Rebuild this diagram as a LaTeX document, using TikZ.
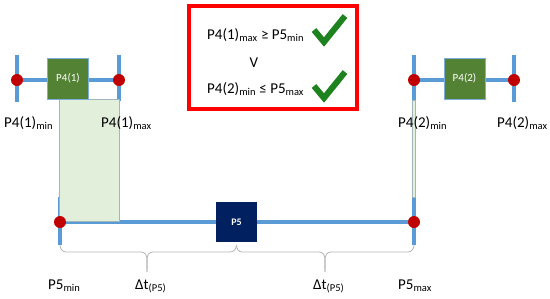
\documentclass[tikz,border=0pt]{standalone}
\usepackage{fontspec}
\setmainfont{Carlito}
\usetikzlibrary{positioning}
\definecolor{lblue}{RGB}{91,155,213}
\definecolor{dred}{RGB}{192,0,0}
\definecolor{gbx}{RGB}{84,130,53}
\definecolor{navy}{RGB}{0,32,96}
\definecolor{lgreen}{RGB}{226,239,218}
\definecolor{chk}{RGB}{30,130,30}
\definecolor{brc}{RGB}{180,180,180}
\pgfdeclarelayer{background}
\pgfsetlayers{background,main}
\begin{document}
\begin{tikzpicture}[x=1pt,y=-1pt,
  bl/.style={line width=4pt, draw=lblue},
  dot/.style={circle, fill=dred, inner sep=0pt, minimum size=12pt},
  gbox/.style={draw=lblue!80, line width=0.6pt, fill=gbx, text=white, minimum width=41pt, minimum height=41pt, inner sep=0pt, font=\fontsize{11}{13}\selectfont},
  nbox/.style={fill=navy, text=white, minimum width=41pt, minimum height=40pt, inner sep=0pt, font=\fontsize{10}{12}\selectfont\bfseries},
  lbl/.style={anchor=base west, inner sep=0pt, font=\fontsize{15}{17}\selectfont},
  shade/.style={fill=lgreen, draw=lblue!40!lgreen!70!gray, line width=0.4pt},
  chkm/.style={draw=chk, line width=6pt, line join=miter},
  brace/.style={draw=brc, line width=0.8pt}
]
\useasboundingbox (0,0) rectangle (550,298);
% shaded areas
\draw[shade] (59,99) rectangle (119,221);
\draw[shade] (412.5,100) rectangle (415.5,197);
% dots
\node[dot] (a1) at (17,80) {};
\node[dot] (a2) at (119,80) {};
\node[dot] (b1) at (414,80) {};
\node[dot] (b2) at (514,80) {};
\node[dot] (c1) at (60,222) {};
\node[dot] (c2) at (414,222) {};
% boxes
\node[gbox] (p41) at (68,78.5) {P4(1)};
\node[gbox] (p42) at (464.5,78.5) {P4(2)};
\node[nbox] (p5) at (236.5,222) {P5};
% tick ends
\coordinate (a1t) at (17,55); \coordinate (a1b) at (17,102);
\coordinate (a2t) at (119,55); \coordinate (a2b) at (119,101);
\coordinate (b1t) at (414,55); \coordinate (b1b) at (414,102);
\coordinate (b2t) at (514,55); \coordinate (b2b) at (514,102);
\coordinate (c1t) at (60,197); \coordinate (c1b) at (60,245);
\coordinate (c2t) at (414,197); \coordinate (c2b) at (414,245);
\begin{pgfonlayer}{background}
\draw[bl] (a1.center) -- (a2.center);
\draw[bl] (b1.center) -- (b2.center);
\draw[bl] (c1.center) -- (c2.center);
\foreach \n in {a1,a2,b1,b2,c1,c2} \draw[bl] (\n t) -- (\n b);
\end{pgfonlayer}
% braces
\coordinate (m1) at (147,272);
\coordinate (m2) at (325,272);
\draw[brace] (c1.center |- 0,245) to[out=-90,in=180] (66,252) -- (141,252) to[out=0,in=90] (m1);
\draw[brace] (m1) to[out=90,in=180] (153,252) -- (230,252) to[out=0,in=-90] (p5.center |- 0,245);
\draw[brace] (p5.center |- 0,245) to[out=-90,in=180] (242,252) -- (319,252) to[out=0,in=90] (m2);
\draw[brace] (m2) to[out=90,in=180] (331,252) -- (408,252) to[out=0,in=-90] (c2.center |- 0,245);
% labels
\node[lbl] (l1) at (4,127) {P4(1)\textsubscript{min}};
\node[lbl] (l2) at (101,127) {P4(1)\textsubscript{max}};
\node[lbl] (l3) at (398,127) {P4(2)\textsubscript{min}};
\node[lbl] (l4) at (497,127) {P4(2)\textsubscript{max}};
\node[lbl] (l5) at (48,289) {P5\textsubscript{min}};
\node[lbl] (l6) at (135,289) {Δt\textsubscript{(P5)}};
\node[lbl] (l7) at (313,289) {Δt\textsubscript{(P5)}};
\node[lbl] (l8) at (398,289) {P5\textsubscript{max}};
% condition box
\node[draw=red, line width=4pt, minimum width=168pt, minimum height=103pt, inner sep=0pt] (cb) at (273,57.5) {};
\node[lbl] (t1) at (207,39) {P4(1)\textsubscript{max} ≥ P5\textsubscript{min}};
\node[lbl, anchor=base] (t2) at (254,67) {V};
\node[lbl] (t3) at (207,93) {P4(2)\textsubscript{min} ≤ P5\textsubscript{max}};
\draw[chkm] (314,30) -- (324,42) -- (345,16);
\draw[chkm] (314,86) -- (324,98) -- (345,72);
\end{tikzpicture}
\end{document}
